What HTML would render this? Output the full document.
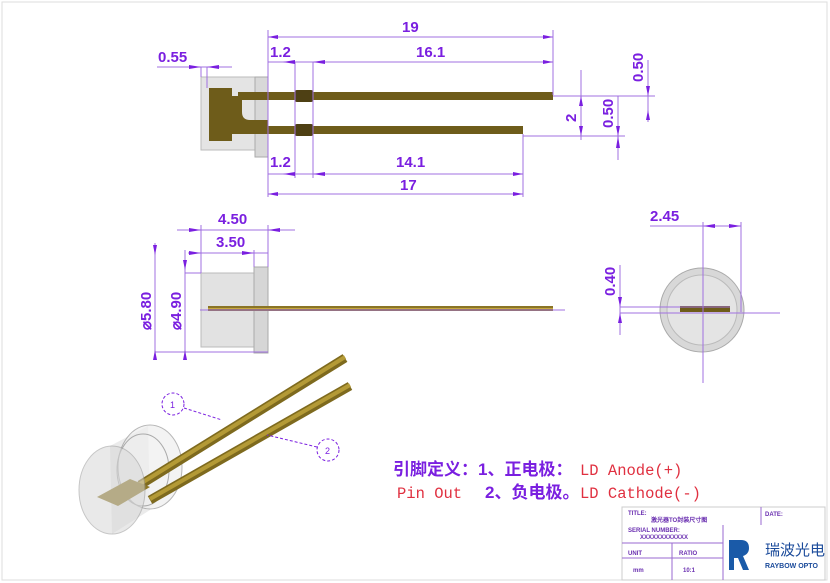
<!DOCTYPE html>
<html><head><meta charset="utf-8"><style>
html,body{margin:0;padding:0;background:#fff;}
svg{display:block;}
.d{font-family:"Liberation Sans",sans-serif;font-weight:bold;font-size:15px;fill:#7a1fe0;}
.l{stroke:#a070e0;stroke-width:1;fill:none;}
.a{fill:#7a1fe0;}
.pin{fill:#6e5c1a;}
.cn{font-family:"Liberation Sans","Noto Sans CJK SC",sans-serif;font-weight:bold;font-size:17px;fill:#7a1fe0;}
.rd{font-family:"Liberation Mono","Noto Serif CJK SC",monospace;font-size:15.5px;fill:#e03040;}
.tb{font-family:"Liberation Sans",sans-serif;font-size:6px;fill:#6a2fb0;font-weight:bold;}
</style></head><body>
<svg width="830" height="583" viewBox="0 0 830 583" xmlns="http://www.w3.org/2000/svg">
<rect x="2" y="2" width="825" height="578" fill="none" stroke="#ddd"/>
<!-- TOP VIEW -->
<rect x="201" y="77" width="56" height="73" fill="#e4e4e4" stroke="#bbb"/>
<rect x="255" y="77" width="13" height="80" fill="#d8d8d8" stroke="#aaa"/>
<path d="M209 88 H232 V96 H238 V92 H268 V100 H242 V112 Q242 120 250 120 H268 V126 H232 V141 H209 Z" class="pin"/>
<rect x="268" y="92" width="285" height="8" class="pin"/>
<rect x="295" y="90" width="18" height="12" rx="2" fill="#4e4014"/>
<rect x="232" y="126" width="291" height="8" class="pin"/>
<rect x="295" y="124" width="18" height="12" rx="2" fill="#4e4014"/>
<g class="l">
<line x1="268" y1="30" x2="268" y2="197"/><line x1="553" y1="30" x2="553" y2="95"/>
<line x1="295" y1="62" x2="295" y2="178"/><line x1="313" y1="62" x2="313" y2="178"/>
<line x1="523" y1="134" x2="523" y2="197"/>
<line x1="268" y1="37" x2="553" y2="37"/><line x1="268" y1="62" x2="553" y2="62"/>
<line x1="268" y1="174" x2="523" y2="174"/><line x1="268" y1="194" x2="523" y2="194"/>
<line x1="157" y1="67" x2="232" y2="67"/><line x1="201" y1="67" x2="201" y2="77"/><line x1="207" y1="67" x2="207" y2="88"/>
<line x1="553" y1="96" x2="655" y2="96"/><line x1="523" y1="136" x2="625" y2="136"/>
<line x1="581" y1="96" x2="581" y2="140"/><line x1="618" y1="96" x2="618" y2="160"/><line x1="648" y1="60" x2="648" y2="122"/>
<line x1="581" y1="70" x2="581" y2="96"/>
</g>
<g class="a">
<path d="M268 37 l10 -2 v4z M553 37 l-10 -2 v4z M283 62 l12 -2 v4z M313 62 l12 -2 v4z M553 62 l-10 -2 v4z"/>
<path d="M283 174 l12 -2 v4z M313 174 l12 -2 v4z M523 174 l-10 -2 v4z M268 194 l10 -2 v4z M523 194 l-10 -2 v4z"/>
<path d="M201 67 l-12 -2 v4z M207 67 l12 -2 v4z"/>
<path d="M581 96 l-2 10 h4z M581 136 l-2 -10 h4z M618 136 l-2 -10 h4z M618 136 l-2 12 h4z M648 96 l-2 -10 h4z M648 110 l-2 10 h4z"/>
</g>
<text class="d" x="402" y="32">19</text>
<text class="d" x="416" y="57">16.1</text>
<text class="d" x="270" y="57">1.2</text>
<text class="d" x="158" y="62">0.55</text>
<text class="d" x="270" y="167">1.2</text>
<text class="d" x="396" y="167">14.1</text>
<text class="d" x="400" y="190">17</text>
<text class="d" transform="translate(576 122) rotate(-90)">2</text>
<text class="d" transform="translate(613 128) rotate(-90)">0.50</text>
<text class="d" transform="translate(643 82) rotate(-90)">0.50</text>
<!-- SIDE VIEW -->
<rect x="201" y="273" width="55" height="74" fill="#e2e2e2" stroke="#bbb"/>
<rect x="254" y="267" width="14" height="86" fill="#d6d6d6" stroke="#aaa"/>
<rect x="208" y="306" width="345" height="5" fill="#8a7426"/>
<rect x="208" y="308" width="345" height="1" fill="#c8a840"/>
<g class="l">
<line x1="201" y1="225" x2="201" y2="273"/><line x1="268" y1="225" x2="268" y2="267"/><line x1="254" y1="250" x2="254" y2="267"/>
<line x1="177" y1="230" x2="295" y2="230"/><line x1="188" y1="253" x2="268" y2="253"/>
<line x1="155" y1="243" x2="155" y2="360"/><line x1="185" y1="250" x2="185" y2="360"/>
<line x1="155" y1="352" x2="268" y2="352"/><line x1="185" y1="273" x2="201" y2="273"/>
<line x1="200" y1="310" x2="565" y2="310"/>
</g>
<g class="a">
<path d="M201 230 l-12 -2 v4z M268 230 l12 -2 v4z M201 253 l-12 -2 v4z M254 253 l-12 -2 v4z"/>
<path d="M155 255 l-2 -10 h4z M155 350 l-2 10 h4z M185 270 l-2 -10 h4z M185 350 l-2 10 h4z"/>
</g>
<text class="d" x="218" y="224">4.50</text>
<text class="d" x="216" y="247">3.50</text>
<text class="d" transform="translate(151 330) rotate(-90)">⌀5.80</text>
<text class="d" transform="translate(181 330) rotate(-90)">⌀4.90</text>
<!-- END VIEW -->
<circle cx="702" cy="310" r="42" fill="#d8d8d8" stroke="#aaa"/>
<circle cx="702" cy="310" r="35" fill="#e4e4e4" stroke="#bbb"/>
<rect x="680" y="306" width="50" height="6" fill="#6e5c1a"/>
<g class="l">
<line x1="703" y1="222" x2="703" y2="383"/><line x1="741" y1="222" x2="741" y2="312"/>
<line x1="650" y1="226" x2="741" y2="226"/>
<line x1="620" y1="307" x2="730" y2="307"/><line x1="620" y1="313" x2="780" y2="313"/>
<line x1="620" y1="265" x2="620" y2="335"/>
</g>
<g class="a"><path d="M703 226 l12 -2 v4z M741 226 l-12 -2 v4z M620 307 l-2 -10 h4z M620 313 l-2 10 h4z"/></g>
<text class="d" x="650" y="221">2.45</text>
<text class="d" transform="translate(615 296) rotate(-90)">0.40</text>
<!-- 3D VIEW -->
<path d="M110 446 L148 426 L150 510 L112 534 Z" fill="#e6e6e6" opacity="0.8"/>
<ellipse cx="150" cy="467" rx="32" ry="42" fill="#eee" stroke="#999" opacity="0.7"/>
<ellipse cx="143" cy="470" rx="26" ry="36" fill="none" stroke="#aaa"/>
<g stroke-linecap="butt">
<line x1="140" y1="485" x2="345" y2="358" stroke="#7e6a1e" stroke-width="9"/>
<line x1="140" y1="484" x2="345" y2="357" stroke="#b49a36" stroke-width="4"/>
<line x1="150" y1="500" x2="350" y2="386" stroke="#7e6a1e" stroke-width="9"/>
<line x1="150" y1="499" x2="350" y2="385" stroke="#b49a36" stroke-width="4"/>
</g>
<path d="M97 497 L130 479 L150 487 L118 506 Z" fill="#8c7624"/>
<ellipse cx="112" cy="490" rx="33" ry="44" fill="#d8d8d8" stroke="#999" opacity="0.55"/>
<g stroke="#7a1fe0" stroke-dasharray="3 2" fill="none">
<circle cx="173" cy="404" r="11"/><circle cx="328" cy="450" r="11"/>
<line x1="184" y1="408" x2="222" y2="420"/><line x1="317" y1="447" x2="267" y2="435"/>
</g>
<text x="170" y="408" font-family="Liberation Sans" font-size="9" fill="#7a1fe0">1</text>
<text x="325" y="454" font-family="Liberation Sans" font-size="9" fill="#7a1fe0">2</text>
<!-- Pin text -->
<text class="cn" x="393" y="475">引脚定义：1、正电极：</text>
<text class="rd" x="580" y="475">LD Anode(+)</text>
<text class="rd" x="397" y="498">Pin Out</text>
<text class="cn" x="485" y="498">2、负电极。</text>
<text class="rd" x="580" y="498">LD Cathode(-)</text>
<!-- TITLE BLOCK -->
<g stroke="#9a6ad0" fill="none">
<rect x="622" y="507" width="203" height="73" stroke="#ccc"/>
<line x1="622" y1="543" x2="723" y2="543"/>
<line x1="622" y1="558" x2="723" y2="558"/>
<line x1="672" y1="543" x2="672" y2="580"/>
<line x1="723" y1="525" x2="723" y2="580"/>
<line x1="761" y1="507" x2="761" y2="525"/>
</g>
<text class="tb" x="628" y="515">TITLE:</text>
<text class="tb" x="651" y="522" font-weight="normal">激光器TO封装尺寸图</text>
<text class="tb" x="765" y="516">DATE:</text>
<text class="tb" x="628" y="532">SERIAL NUMBER:</text>
<text class="tb" x="640" y="539" font-weight="normal">XXXXXXXXXXXX</text>
<text class="tb" x="628" y="555">UNIT</text>
<text class="tb" x="679" y="555">RATIO</text>
<text class="tb" x="633" y="572" font-weight="normal">mm</text>
<text class="tb" x="683" y="572" font-weight="normal">10:1</text>
<path d="M729 540 h12 q8 0 8 8 q0 6 -6 8 l6 14 h-6 l-5 -12 h-4 v12 h-5z" fill="#1a5aa8"/>
<text x="765" y="555" font-family="Liberation Sans,Noto Sans CJK SC,sans-serif" font-size="15" fill="#1a4a9a">瑞波光电</text>
<text x="765" y="568" font-family="Liberation Sans,sans-serif" font-size="7" font-weight="bold" fill="#1a4a9a">RAYBOW OPTO</text>
</svg>
</body></html>
